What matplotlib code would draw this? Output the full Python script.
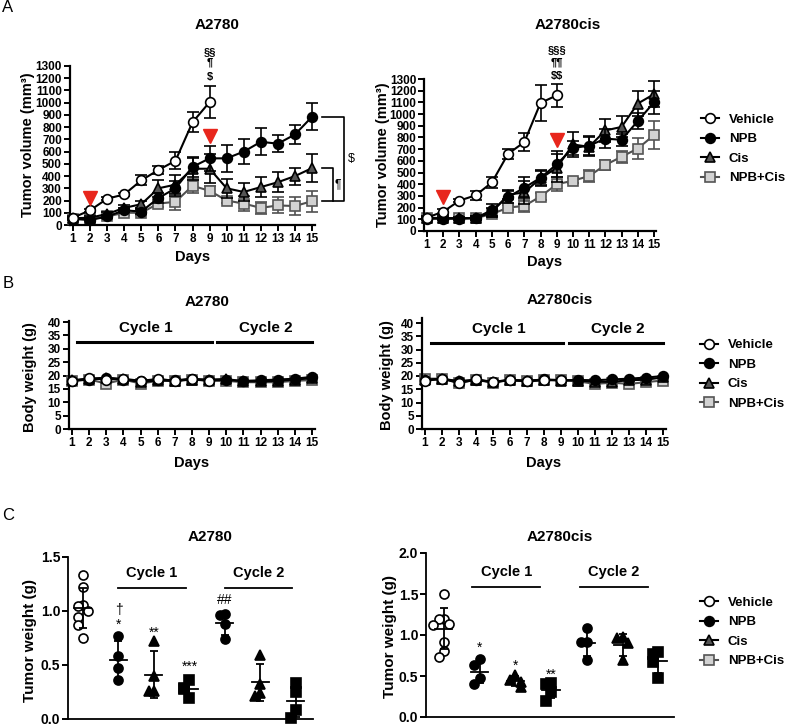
import numpy as np
import matplotlib
matplotlib.use('Agg')
import matplotlib.pyplot as plt
from matplotlib.lines import Line2D

plt.rcParams['font.family'] = ['Liberation Sans', 'DejaVu Sans']
plt.rcParams['font.weight'] = 'bold'

W, H = 785, 726

days = np.arange(1, 16)
groups = ['Vehicle', 'NPB', 'Cis', 'NPB+Cis']

# ---- A: tumor volume (mm3) ----
# A2780
vol1_veh = [60, 120, 215, 250, 365, 450, 525, 840, 1005]
vol1_veh_sd = [12, 12, 12, 12, 40, 30, 70, 80, 130]
vol1_npb = [50, 40, 70, 120, 110, 220, 300, 475, 545, 545, 600, 680, 665, 740, 885]
vol1_npb_sd = [10, 10, 12, 15, 20, 40, 60, 80, 100, 110, 100, 110, 70, 75, 110]
vol1_cis = [55, 60, 90, 140, 170, 300, 330, 460, 460, 300, 270, 310, 350, 400, 465]
vol1_cis_sd = [10, 10, 15, 20, 30, 70, 80, 90, 120, 80, 70, 80, 80, 70, 115]
vol1_combo = [50, 50, 70, 100, 100, 175, 190, 320, 280, 200, 175, 140, 160, 155, 195]
vol1_combo_sd = [10, 10, 12, 15, 20, 30, 70, 60, 40, 20, 60, 50, 65, 70, 85]
# A2780cis
vol2_veh = [115, 165, 260, 305, 415, 660, 760, 1095, 1160]
vol2_veh_sd = [15, 25, 15, 40, 50, 40, 80, 150, 100]
vol2_npb = [105, 105, 105, 110, 180, 290, 370, 455, 570, 710, 730, 790, 780, 940, 1100]
vol2_npb_sd = [10, 10, 10, 15, 50, 50, 90, 70, 110, 60, 80, 80, 50, 70, 100]
vol2_cis = [110, 110, 110, 110, 160, 310, 330, 450, 540, 740, 720, 860, 890, 1090, 1170]
vol2_cis_sd = [10, 10, 10, 15, 40, 40, 100, 60, 120, 110, 80, 100, 90, 110, 110]
vol2_combo = [115, 110, 110, 110, 145, 200, 215, 295, 400, 430, 470, 565, 635, 705, 820]
vol2_combo_sd = [10, 10, 10, 10, 20, 20, 50, 30, 60, 20, 50, 40, 50, 90, 120]

dose_days = [2, 9]
dose_y1 = [220, 730]
dose_y2 = [290, 780]
sig1_marks = [r'\$', '¶', '§§']
sig1_y = [1210, 1325, 1415]
sig2_marks = [r'\$\$', '¶¶', '§§§']
sig2_y = [1325, 1445, 1548]

# ---- B: body weight (g) ----
bw1_veh = [18, 19, 18.5, 18.8, 18, 18.7, 18, 18.7, 18]
bw1_npb = [18, 18.5, 19, 18.5, 18, 18.5, 18.2, 18.8, 18.3, 18.3, 18, 18.2, 18.5, 18.8, 19.5]
bw1_cis = [18.2, 18.8, 19.2, 18.7, 17.5, 18.2, 18, 18.5, 18.5, 18.7, 17.8, 17.8, 18, 18.5, 19]
bw1_combo = [18, 18.5, 17, 18.5, 17, 18, 18, 18.5, 18, 18, 17.5, 17.5, 17.5, 18, 18.3]
bw2_veh = [18.2, 19, 17.3, 18.7, 17.8, 18.5, 18.2, 18.5, 18.5]
bw2_npb = [18.5, 19, 18, 18.5, 17.8, 18.5, 18.2, 18.7, 18.4, 18.5, 18.4, 18.7, 19, 19.4, 20]
bw2_cis = [18.5, 18.8, 18, 18.6, 17.6, 18.5, 18, 18.5, 18.3, 18.3, 17.8, 17.8, 18.4, 18.6, 19.5]
bw2_combo = [19, 19, 17.5, 18.5, 17.5, 18.5, 18, 18.5, 18.5, 18, 17, 17.5, 17, 17.7, 18.3]

# ---- C: tumor weight (g) ----
c_groups = ['Vehicle', 'NPB', 'Cis', 'NPB+Cis', 'NPB', 'Cis', 'NPB+Cis']
wt1 = [
    [1.33, 1.22, 1.06, 1.05, 1.00, 0.94, 0.87, 0.75],
    [0.77, 0.58, 0.47, 0.36],
    [0.72, 0.40, 0.26, 0.26],
    [0.36, 0.29, 0.28, 0.19],
    [0.97, 0.96, 0.88, 0.74],
    [0.59, 0.32, 0.24, 0.21],
    [0.33, 0.25, 0.08, 0.01],
]
wt2 = [
    [1.50, 1.20, 1.20, 1.14, 1.12, 0.91, 0.80, 0.73],
    [0.71, 0.63, 0.47, 0.40],
    [0.51, 0.45, 0.43, 0.37],
    [0.41, 0.40, 0.30, 0.20],
    [1.09, 0.91, 0.91, 0.70],
    [0.98, 0.96, 0.90, 0.69],
    [0.79, 0.77, 0.67, 0.48],
]
wt1_marks = {1: ['*', '†'], 2: ['**'], 3: ['***'], 4: ['##']}
wt1_marks_y = {1: [0.87, 1.01], 2: [0.80], 3: [0.48], 4: [1.10]}
wt2_marks = {1: ['*'], 2: ['*'], 3: ['**']}
wt2_marks_y = {1: [0.84], 2: [0.62], 3: [0.52]}

styles = {
    'Vehicle': dict(marker='o', mfc='white', mec='black', color='black', z=5),
    'NPB': dict(marker='o', mfc='black', mec='black', color='black', z=4),
    'Cis': dict(marker='^', mfc='#555555', mec='black', color='black', z=3),
    'NPB+Cis': dict(marker='s', mfc='#d2d2d2', mec='#555555', color='#505050', z=2),
}

fig = plt.figure(figsize=(W / 100, H / 100), dpi=100)


def add_ax(left, top, right, bottom):
    return fig.add_axes([left / W, 1 - bottom / H, (right - left) / W, (bottom - top) / H])


def ftext(x, y, s, **kw):
    kw.setdefault('ha', 'center')
    kw.setdefault('va', 'center')
    fig.text(x / W, 1 - y / H, s, **kw)


def style_ax(ax, size):
    for s in ['top', 'right']:
        ax.spines[s].set_visible(False)
    for s in ['left', 'bottom']:
        ax.spines[s].set_linewidth(1.6)
    ax.tick_params(direction='out', length=4, width=1.4, labelsize=size, pad=1.5)


def curve(ax, y, sd, g):
    st = styles[g]
    x = days[:len(y)]
    ax.errorbar(x, y, yerr=sd, color=st['color'], marker=st['marker'], mfc=st['mfc'],
                mec=st['mec'], ms=7, mew=1.2, lw=1.5, elinewidth=1.2, capsize=4,
                capthick=1.2, clip_on=False, zorder=st['z'])


def legend(x, y):
    hs = [Line2D([], [], color=styles[g]['color'], marker=styles[g]['marker'],
                 mfc=styles[g]['mfc'], mec=styles[g]['mec'], ms=7, mew=1.2, lw=1.5)
          for g in groups]
    fig.legend(hs, groups, loc='center left', bbox_to_anchor=(x / W, 1 - y / H),
               frameon=False, borderpad=0, borderaxespad=0, handlelength=1.35,
               handletextpad=0.75, labelspacing=0.55, prop=dict(weight='bold', size=9.5))


# ---------- A ----------
vol_sets = [
    (vol1_veh, vol1_veh_sd, vol1_npb, vol1_npb_sd, vol1_cis, vol1_cis_sd, vol1_combo, vol1_combo_sd),
    (vol2_veh, vol2_veh_sd, vol2_npb, vol2_npb_sd, vol2_cis, vol2_cis_sd, vol2_combo, vol2_combo_sd),
]
axA1 = add_ax(69.6, 66, 314.6, 225)
axA2 = add_ax(423.8, 79, 656.4, 231)
for ax, vs, dy, sm, sy in [(axA1, vol_sets[0], dose_y1, sig1_marks, sig1_y),
                           (axA2, vol_sets[1], dose_y2, sig2_marks, sig2_y)]:
    style_ax(ax, 8.5)
    for i, g in enumerate(groups[::-1]):
        k = 3 - i
        curve(ax, vs[2 * k], vs[2 * k + 1], g)
    ax.set_xlim(0.8, 15.15)
    ax.set_ylim(0, 1300)
    ax.set_xticks(days)
    ax.set_yticks(np.arange(0, 1301, 100))
    ax.plot(dose_days, dy, 'v', color='#e8261c', ms=10, zorder=6)
    for m, y in zip(sm, sy):
        ax.text(9, y, m, ha='center', va='center', fontsize=8, clip_on=False)

# brackets, A2780 day 15
bx = [15.6, 16.85, 16.85, 15.6]
by = [vol1_npb[-1], vol1_npb[-1], vol1_combo[-1], vol1_combo[-1]]
axA1.plot(bx, by, color='black', lw=1.2, clip_on=False)
axA1.plot([15.6, 16.25, 16.25], [vol1_cis[-1], vol1_cis[-1], vol1_combo[-1]],
          color='black', lw=1.2, clip_on=False)
axA1.text(17.3, 540, r'\$', fontsize=9, fontweight='normal', ha='center', va='center')
axA1.text(16.5, 330, '¶', fontsize=9, fontweight='normal', ha='center', va='center')

ftext(217, 25, 'A2780', fontsize=11)
ftext(568, 25, 'A2780cis', fontsize=11)
ftext(28, 145, 'Tumor volume (mm³)', rotation=90, fontsize=10.5)
ftext(383, 155, 'Tumor volume (mm³)', rotation=90, fontsize=10.5)
ftext(193, 257, 'Days', fontsize=10.5)
ftext(545, 262, 'Days', fontsize=10.5)
ftext(8, 8, 'A', fontsize=12, fontweight='normal')
legend(701, 149)

# ---------- B ----------
bw_sets = [(bw1_veh, bw1_npb, bw1_cis, bw1_combo), (bw2_veh, bw2_npb, bw2_cis, bw2_combo)]
axB1 = add_ax(68.6, 320.7, 314.6, 429)
axB2 = add_ax(421.6, 317.7, 665.6, 429)
for ax, bs, top, c1, c2 in [(axB1, bw_sets[0], 40.5, (1.28, 9.18), (9.44, 15.0)),
                            (axB2, bw_sets[1], 42, (1.35, 9.1), (9.47, 15.0))]:
    style_ax(ax, 8.5)
    for k in [3, 2, 1, 0]:
        st = styles[groups[k]]
        y = bs[k]
        ax.plot(days[:len(y)], y, color=st['color'], marker=st['marker'], mfc=st['mfc'],
                mec=st['mec'], ms=7, mew=1.2, lw=1.5, zorder=st['z'], clip_on=False)
    ax.set_xlim(0.8, 15.15)
    ax.set_ylim(0, top)
    ax.set_xticks(days)
    ax.set_yticks(np.arange(0, 41, 5))
    for (a, b), lab in [(c1, 'Cycle 1'), (c2, 'Cycle 2')]:
        ax.plot([a, b], [32.5, 32.5], color='black', lw=2.2, clip_on=False)
        ax.text((a + b) / 2 + 0.1, 37.7, lab, ha='center', va='center', fontsize=11)

ftext(207, 302, 'A2780', fontsize=11)
ftext(560, 300, 'A2780cis', fontsize=11)
ftext(30, 377, 'Body weight (g)', rotation=90, fontsize=10.5)
ftext(387, 375, 'Body weight (g)', rotation=90, fontsize=10.5)
ftext(192, 463, 'Days', fontsize=10.5)
ftext(544, 463, 'Days', fontsize=10.5)
ftext(8, 284, 'B', fontsize=12, fontweight='normal')
legend(700, 374.5)


# ---------- C ----------
def spread(vals, dy, step=0.15):
    offs, placed = [], []
    for v in vals:
        n = sum(abs(v - p) < dy for p in placed)
        offs.append([0, -1, 1, -2, 2][min(n, 4)] * step)
        placed.append(v)
    return np.array(offs)


axC1 = add_ax(68, 557, 313, 719)
axC2 = add_ax(426, 553, 674, 717)
for ax, data, ytop, xl, marks, marks_y, lines, ly, ty in [
        (axC1, wt1, 1.5, (-0.42, 6.48), wt1_marks, wt1_marks_y, [(0.98, 2.9), (4.0, 5.9)], 1.21, 1.35),
        (axC2, wt2, 2.0, (-0.5, 6.44), wt2_marks, wt2_marks_y, [(0.8, 2.7), (3.8, 5.7)], 1.58, 1.77)]:
    style_ax(ax, 10)
    ax.spines['left'].set_linewidth(1.3)
    ax.spines['bottom'].set_linewidth(1.3)
    for i, (g, vals) in enumerate(zip(c_groups, data)):
        vals = np.array(vals)
        st = styles[g]
        fc = 'white' if g == 'Vehicle' else 'black'
        ax.plot(i + spread(vals, ytop * 0.05), vals, ls='none', marker=st['marker'],
                mfc=fc, mec='black', ms=6.5, mew=1.2, clip_on=False, zorder=3)
        m, sd = vals.mean(), vals.std(ddof=1)
        ax.errorbar(i, m, yerr=sd, fmt='none', ecolor='black', elinewidth=1.3,
                    capsize=3, capthick=1.3, zorder=4)
        ax.plot([i - 0.24, i + 0.24], [m, m], color='black', lw=1.3, zorder=4)
    for i, labs in marks.items():
        for lab, y in zip(labs, marks_y[i]):
            ax.text(i, y, lab, ha='center', va='center', fontsize=10, fontweight='normal')
    for (a, b), lab in zip(lines, ['Cycle 1', 'Cycle 2']):
        ax.plot([a, b], [ly, ly], color='black', lw=1.3, clip_on=False)
        ax.text((a + b) / 2, ty, lab, ha='center', va='center', fontsize=10.5)
    ax.set_xlim(*xl)
    ax.set_ylim(0, ytop)
    ax.set_xticks([])
    ax.set_yticks(np.arange(0, ytop + 0.01, 0.5))
    ax.yaxis.set_major_formatter(matplotlib.ticker.FormatStrFormatter('%.1f'))

ftext(210, 537, 'A2780', fontsize=11)
ftext(560, 537, 'A2780cis', fontsize=11)
ftext(30, 640, 'Tumor weight (g)', rotation=90, fontsize=11)
ftext(390, 637, 'Tumor weight (g)', rotation=90, fontsize=11)
ftext(8, 515, 'C', fontsize=12, fontweight='normal')
legend(700, 632)

fig.savefig('out.png', dpi=100)
